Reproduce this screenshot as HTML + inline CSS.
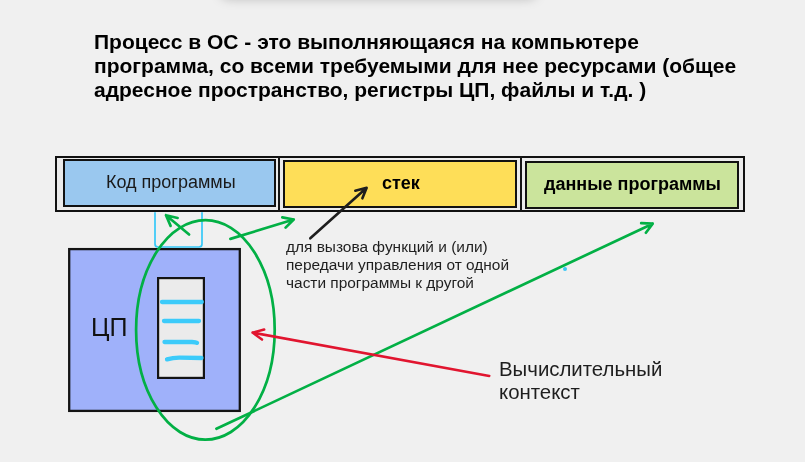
<!DOCTYPE html>
<html><head><meta charset="utf-8">
<style>
html,body{margin:0;padding:0;}
body{width:805px;height:462px;background:#f0f0f0;position:relative;overflow:hidden;font-family:"Liberation Sans",sans-serif;}
.abs{position:absolute;box-sizing:border-box;}
#shadow{position:absolute;left:222px;top:-50px;width:313px;height:47px;background:#f0f0f0;box-shadow:0 0 12px 1px rgba(0,0,0,0.26);border-radius:6px;}
#title{position:absolute;left:94px;top:30px;font-weight:bold;font-size:21px;line-height:24px;color:#000;white-space:nowrap;}
.t{position:absolute;white-space:nowrap;}
#title,.t{will-change:transform;}
</style></head>
<body>
<div id="shadow"></div>
<div id="title">Процесс в ОС - это выполняющаяся на компьютере<br>программа, со всеми требуемыми для нее ресурсами (общее<br>адресное пространство, регистры ЦП, файлы и т.д. )</div>

<!-- outer table -->
<div class="abs" style="left:55px;top:156px;width:690px;height:56px;border:2px solid #111;background:#ebebeb;"></div>
<div class="abs" style="left:278px;top:156px;width:2px;height:56px;background:#151515;"></div>
<div class="abs" style="left:520px;top:156px;width:2px;height:56px;background:#151515;"></div>
<div class="abs" style="left:63px;top:159px;width:213px;height:48px;border:2px solid #111;background:#9ac8ef;"></div>
<div class="abs" style="left:283px;top:160px;width:234px;height:48px;border:2px solid #111;background:#fede58;"></div>
<div class="abs" style="left:525px;top:161px;width:214px;height:48px;border:2px solid #111;background:#cbe49c;"></div>

<div class="t" style="left:106px;top:171px;font-size:18px;line-height:22px;color:#1a1a1a;">Код программы</div>
<div class="t" style="left:381.7px;top:172px;font-size:18px;line-height:22px;font-weight:bold;color:#000;">стек</div>
<div class="t" style="left:544px;top:172.6px;font-size:18px;line-height:22px;font-weight:bold;color:#000;">данные программы</div>

<!-- CPU -->
<svg class="abs" style="left:0;top:0" width="805" height="462"><rect x="69.2" y="249.1" width="170.6" height="161.8" fill="#9fb1fa" stroke="#141414" stroke-width="2.3"/><rect x="158.1" y="278.1" width="45.8" height="99.8" fill="#ebebeb" stroke="#141414" stroke-width="2.2"/></svg>
<div class="t" style="left:90.6px;top:313px;font-size:25px;line-height:28px;color:#111;">ЦП</div>

<div class="t" style="left:285.5px;top:238px;font-size:15.45px;line-height:18px;color:#1f1f1f;">для вызова функций и (или)<br>передачи управления от одной<br>части программы к другой</div>
<div class="t" style="left:498.6px;top:358px;font-size:20.4px;line-height:23px;color:#1e1e1e;">Вычислительный<br>контекст</div>

<svg class="abs" style="left:0;top:0" width="805" height="462" viewBox="0 0 805 462">
  <g fill="none" stroke-linecap="round" stroke-linejoin="round">
    <!-- cyan U -->
    <path d="M155 212.8 V244 Q155 247 158 247 H199 Q202 247 202 244 V212.8" stroke="#35c8f8" stroke-width="1.7"/>
    <!-- register lines -->
    <g stroke="#3ccbfa" stroke-width="4.3">
      <path d="M162 302 L201.8 302"/>
      <path d="M164 321 L199 321"/>
      <path d="M164.5 342 L192 342 Q196 342.2 197 342.8"/>
      <path d="M167 359.4 Q173 357.6 180 357.7 L201.5 358"/>
    </g>
    <!-- green ellipse -->
    <ellipse cx="205.4" cy="329.9" rx="69.3" ry="109.8" stroke="#02b045" stroke-width="2.7"/>
    <!-- green arrows -->
    <g stroke="#02b045" stroke-width="2.7">
      <path d="M189.1 234.5 L166 215.2 M177.6 218 L166 215.2 L170.6 225.9"/>
      <path d="M230.4 238.9 L293.7 219.5 M282.3 217.4 L293.7 219.5 L285.6 227.6"/>
      <path d="M216.4 428.8 L652.7 223.7 M641.2 223.1 L652.7 223.7 L645.9 232.7"/>
    </g>
    <!-- red arrow -->
    <path d="M489.3 375.9 L252.5 332.6 M264.2 329.5 L252.5 332.6 L262 339.6" stroke="#e1152f" stroke-width="2.5"/>
    <!-- black arrow -->
    <path d="M310.3 238.3 L366.65 187.8 M355.3 190.7 L366.65 187.8 L362.4 198.3" stroke="#1e1e1e" stroke-width="2.6"/>
  </g>
  <circle cx="565" cy="269" r="2" fill="#3cc8f5"/>
</svg>
</body></html>
